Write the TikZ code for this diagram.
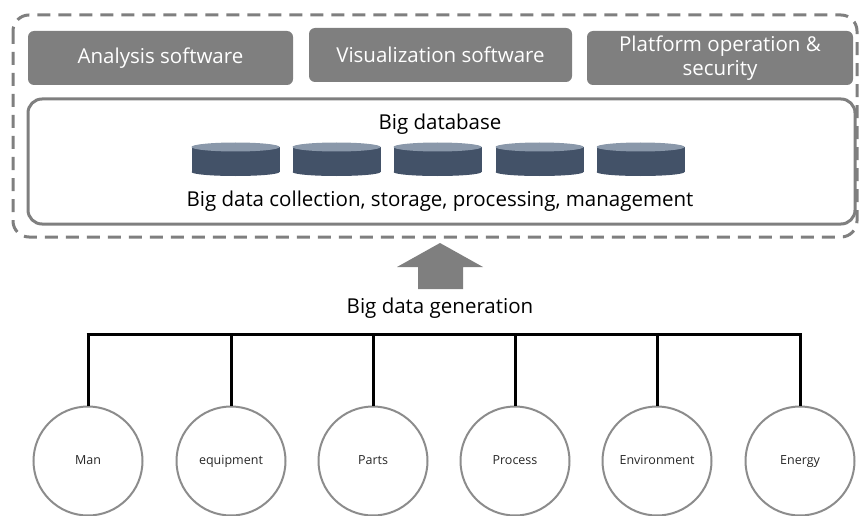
\documentclass[tikz,border=0pt]{standalone}
\usepackage{fontspec}
\setmainfont{Open Sans}
\begin{document}
\begin{tikzpicture}[x=1pt,y=-1pt,
  graybox/.style={draw=none,fill=boxgray,rounded corners=6pt,text=white,font=\fontsize{20.5}{24}\selectfont,align=center,inner sep=0pt},
  maintext/.style={font=\fontsize{20.5}{24}\selectfont,text=black,inner sep=0pt},
  src/.style={circle,draw=circgray,line width=2pt,minimum size=109pt,inner sep=0pt,text height=1.5ex,text depth=.25ex,font=\fontsize{12.5}{14}\selectfont,text=black!85},
  bus/.style={line width=3pt,draw=black},
  cylbody/.style={fill=cylblue},
  cyltop/.style={fill=cyllight}
]
\definecolor{boxgray}{RGB}{127,127,127}
\definecolor{circgray}{RGB}{140,140,140}
\definecolor{cylblue}{RGB}{67,82,104}
\definecolor{cyllight}{RGB}{138,152,170}
\useasboundingbox (0,0) rectangle (862,516);
% outer dashed frame
\draw[boxgray,line width=3pt,dash pattern=on 13pt off 8pt,rounded corners=16pt] (13,15) rectangle (857,237);
% top gray boxes
\node[graybox,minimum width=265pt,minimum height=54pt] (ana) at (160.5,58) {Analysis software};
\node[graybox,minimum width=263pt,minimum height=54pt] (vis) at (440.5,55) {Visualization software};
\node[graybox,minimum width=266pt,minimum height=54pt] (plat) at (720,58) {Platform operation \&\\security};
% inner database box
\draw[boxgray,line width=3pt,rounded corners=14pt] (28,99) rectangle (855,224);
\node[maintext] (bigdb) at (440,124) {Big database};
\foreach \cx in {235.5,336.5,437.5,539.5,640.5}{
  \fill[cylbody] (\cx-44,147) rectangle (\cx+44,172);
  \fill[cylbody] (\cx,172) ellipse [x radius=44,y radius=4];
  \fill[cyltop] (\cx,147) ellipse [x radius=44,y radius=4.5];
}
\node[maintext] (bdc) at (440,201) {Big data collection, storage, processing, management};
% block arrow
\fill[boxgray] (418,289) -- (418,267) -- (397,267) -- (440,243) -- (483,267) -- (463,267) -- (463,289) -- cycle;
\node[maintext] (gen) at (440,308) {Big data generation};
% sources
\node[src] (c1) at (88,461) {Man};
\node[src] (c2) at (231,461) {equipment};
\node[src] (c3) at (373,461) {Parts};
\node[src] (c4) at (515,461) {Process};
\node[src] (c5) at (657,461) {Environment};
\node[src] (c6) at (800,461) {Energy};
\coordinate (b1) at (88,334);
\coordinate (b6) at (800,334);
\draw[bus] ([xshift=-1.5pt]b1) -- ([xshift=1.5pt]b6);
\foreach \i in {1,...,6}{
  \draw[bus] (c\i.north |- b1) -- (c\i.north);
}
\end{tikzpicture}
\end{document}
